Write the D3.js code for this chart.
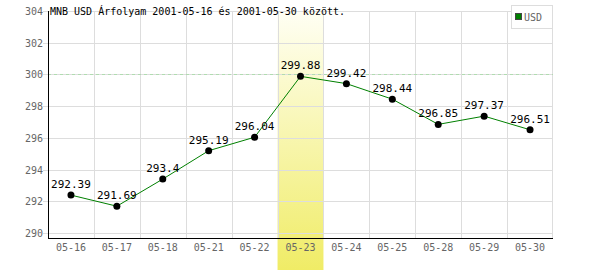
<!DOCTYPE html>
<html>
<head>
<meta charset="utf-8">
<script src="https://cdn.jsdelivr.net/npm/d3@7"></script>
<style>
  body { margin: 0; background: #fff; }
  svg { display: block; }
  text { font-family: "DejaVu Sans Mono", monospace; }
</style>
</head>
<body>
<svg width="600" height="270"></svg>
<script>
"use strict";
var dates = ['05-16','05-17','05-18','05-21','05-22','05-23','05-24','05-25','05-28','05-29','05-30'];
var usd = [292.39, 291.69, 293.4, 295.19, 296.04, 299.88, 299.42, 298.44, 296.85, 297.37, 296.51];
var yTicks = [290, 292, 294, 296, 298, 300, 302, 304];
var highlight = '05-23';
var refLine = 300;
var title = 'MNB USD Árfolyam 2001-05-16 és 2001-05-30 között.';

var plotL = 48, plotR = 553, plotT = 11, plotB = 238;
var svg = d3.select('svg');

var x = d3.scaleBand().domain(dates).range([plotL, plotR]);
var y = d3.scaleLinear().domain([290, 304]).range([233, plotT]);

var defs = svg.append('defs');
var grad = defs.append('linearGradient').attr('id','hl').attr('x1',0).attr('y1',0).attr('x2',0).attr('y2',1);
grad.append('stop').attr('offset','0%').attr('stop-color','#fffff4');
grad.append('stop').attr('offset','100%').attr('stop-color','#f0ec66');

// highlighted day
svg.append('rect')
  .attr('x', x(highlight)).attr('y', plotT)
  .attr('width', x.bandwidth()).attr('height', 270 - plotT)
  .attr('fill', 'url(#hl)');

// grid
svg.append('g').selectAll('line')
  .data(yTicks).enter().append('line')
  .attr('x1', plotL - 5).attr('x2', plotR)
  .attr('y1', d => Math.round(y(d)) + 0.5).attr('y2', d => Math.round(y(d)) + 0.5)
  .attr('stroke', '#ddd');
svg.append('g').selectAll('line')
  .data(dates.slice(1).concat(['end'])).enter().append('line')
  .attr('x1', d => d === 'end' ? plotR - 0.5 : Math.round(x(d)) + 0.5)
  .attr('x2', d => d === 'end' ? plotR - 0.5 : Math.round(x(d)) + 0.5)
  .attr('y1', plotT).attr('y2', plotB)
  .attr('stroke', '#ddd');

// reference line
svg.append('line')
  .attr('x1', plotL).attr('x2', plotR)
  .attr('y1', Math.round(y(refLine)) + 0.5).attr('y2', Math.round(y(refLine)) + 0.5)
  .attr('stroke', '#b0dcb0').attr('stroke-dasharray', '3,3');

// axes
svg.append('line').attr('x1', plotL + 0.5).attr('x2', plotL + 0.5).attr('y1', plotT).attr('y2', plotB)
  .attr('stroke', '#000');
svg.append('line').attr('x1', plotL).attr('x2', plotR).attr('y1', plotB + 0.5).attr('y2', plotB + 0.5)
  .attr('stroke', '#000');

svg.append('g').selectAll('text')
  .data(yTicks).enter().append('text')
  .attr('x', 43).attr('y', d => y(d) + 4)
  .attr('text-anchor', 'end')
  .attr('font-size', 10).attr('fill', '#666')
  .text(d => d);

svg.append('g').selectAll('text')
  .data(dates).enter().append('text')
  .attr('x', d => x(d) + x.bandwidth() / 2).attr('y', 251)
  .attr('text-anchor', 'middle')
  .attr('font-size', 10).attr('fill', '#666')
  .text(d => d);

// series
var pts = dates.map((d, i) => ({ d: d, v: usd[i] }));
var line = d3.line().x(p => x(p.d) + x.bandwidth() / 2).y(p => y(p.v));
svg.append('path').datum(pts)
  .attr('d', line)
  .attr('fill', 'none').attr('stroke', '#008000').attr('stroke-width', 1);

svg.append('g').selectAll('circle')
  .data(pts).enter().append('circle')
  .attr('cx', p => x(p.d) + x.bandwidth() / 2).attr('cy', p => y(p.v))
  .attr('r', 3.5).attr('fill', '#000');

svg.append('g').selectAll('text')
  .data(pts).enter().append('text')
  .attr('x', p => x(p.d) + x.bandwidth() / 2).attr('y', p => y(p.v) - 7)
  .attr('text-anchor', 'middle')
  .attr('font-size', 11).attr('fill', '#000')
  .text(p => p.v);

// title
svg.append('text').attr('x', 50).attr('y', 15)
  .attr('font-size', 10).attr('fill', '#000')
  .text(title);

// legend
var lg = svg.append('g');
lg.append('rect').attr('x', 511.5).attr('y', 5.5).attr('width', 41).attr('height', 23)
  .attr('fill', '#fff').attr('stroke', '#ddd');
lg.append('rect').attr('x', 515.5).attr('y', 13.5).attr('width', 6).attr('height', 6)
  .attr('fill', '#008000').attr('stroke', '#444');
lg.append('text').attr('x', 524).attr('y', 20.5)
  .attr('font-size', 10).attr('fill', '#666')
  .text('USD');
</script>
</body>
</html>
